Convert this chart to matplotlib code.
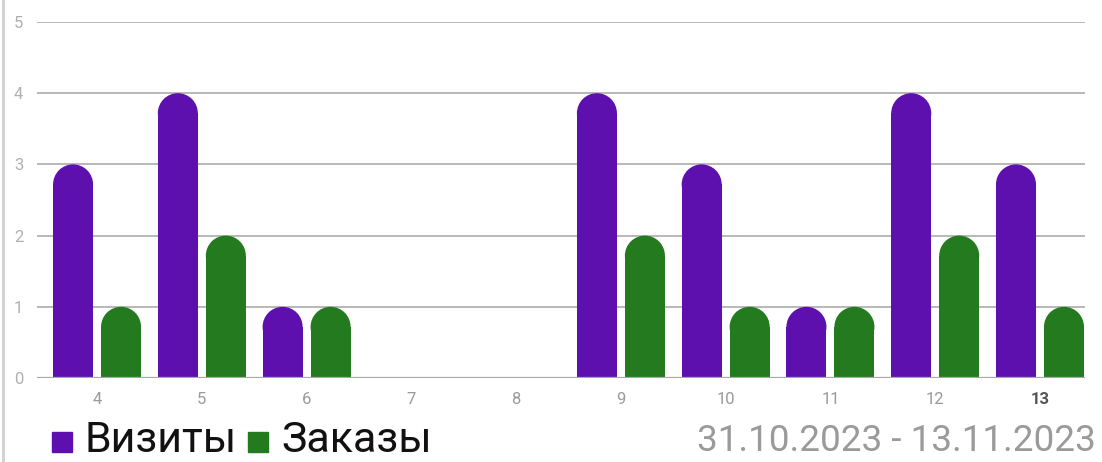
import matplotlib
matplotlib.use('Agg')
from matplotlib import pyplot as plt
from matplotlib.patches import Ellipse, Rectangle
from matplotlib.lines import Line2D
import numpy as np

plt.rcParams['font.family'] = ['Roboto', 'DejaVu Sans']

days = ['4', '5', '6', '7', '8', '9', '10', '11', '12', '13']
visits = [3, 4, 1, 0, 0, 4, 3, 1, 4, 3]
orders = [1, 2, 1, 0, 0, 2, 1, 1, 2, 1]
y_ticks = [0, 1, 2, 3, 4, 5]

PURPLE = '#5e10ae'
GREEN = '#247a1e'

W, H, DPI = 11.02, 4.62, 100
fig = plt.figure(figsize=(W, H), dpi=DPI)
ax = fig.add_axes([0.0336, 0.1818, 0.951, 0.7706])

x = np.arange(len(days))
bar_w = 0.382
off = 0.229
xlim = (-0.573, 9.43)
ylim = (0, 5)
ax.set_xlim(*xlim)
ax.set_ylim(*ylim)

# pixels per data unit, so the rounded caps come out circular
ax_w_px = W * DPI * 0.951
ax_h_px = H * DPI * 0.7706
px_x = ax_w_px / (xlim[1] - xlim[0])
px_y = ax_h_px / (ylim[1] - ylim[0])
ry = (bar_w * px_x / 2) / px_y

def rounded_bars(xs, vals, color):
    for xi, v in zip(xs, vals):
        if v <= 0:
            continue
        ax.bar(xi, v - ry, width=bar_w, color=color, zorder=3, linewidth=0)
        ax.add_patch(Ellipse((xi, v - ry), bar_w, 2 * ry, color=color, zorder=3, linewidth=0))

rounded_bars(x - off, visits, PURPLE)
rounded_bars(x + off, orders, GREEN)

for t in y_ticks[1:]:
    ax.axhline(t, color='#b8b8b8', linewidth=1.4, zorder=1)
ax.axhline(0, color='#a8a8a8', linewidth=1.6, zorder=4)

for s in ax.spines.values():
    s.set_visible(False)

ax.set_yticks(y_ticks)
ax.set_yticklabels([str(t) for t in y_ticks], color='#b0b0b0', fontsize=12)
ax.tick_params(axis='y', length=0, pad=10)
ax.set_xticks(x)
ax.set_xticklabels(days, fontsize=12, color='#9a9a9a')
ax.tick_params(axis='x', length=0, pad=10)
lbl = ax.get_xticklabels()[-1]
lbl.set_color('#555555')
lbl.set_fontweight('bold')

# left border line
fig.add_artist(Line2D([0.003, 0.003], [0, 1], transform=fig.transFigure, color='#d0d0d0', linewidth=2))

# legend
fig.add_artist(Rectangle((52 / 1102, 1 - 452 / 462), 20 / 1102, 20 / 462, transform=fig.transFigure, color=PURPLE))
fig.text(85 / 1102, 1 - 441 / 462, 'Визиты', fontsize=31, color='#111111', va='center', ha='left')
fig.add_artist(Rectangle((248 / 1102, 1 - 452 / 462), 20 / 1102, 20 / 462, transform=fig.transFigure, color=GREEN))
fig.text(281 / 1102, 1 - 441 / 462, 'Заказы', fontsize=31, color='#111111', va='center', ha='left')

fig.text(1096 / 1102, 1 - 441 / 462, '31.10.2023 - 13.11.2023', fontsize=26.6, color='#9a9a9a', va='center', ha='right')

fig.savefig('out.png', dpi=DPI)
